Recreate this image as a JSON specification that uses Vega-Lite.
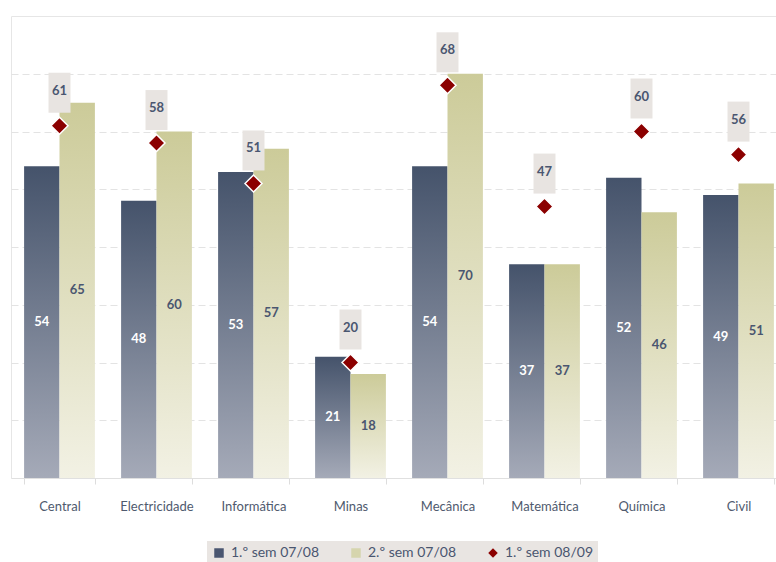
{
  "$schema": "https://vega.github.io/schema/vega-lite/v6.json",
  "width": 776,
  "height": 462,
  "autosize": {"type": "none"},
  "padding": {"left": 11, "top": 16, "right": -11, "bottom": 84},
  "config": {
    "view": {"stroke": "#e6e6e6"},
    "font": "Lato"
  },
  "data": {
    "values": [
      {"cat": "Central", "s": "1.º sem 07/08", "v": 54},
      {"cat": "Electricidade", "s": "1.º sem 07/08", "v": 48},
      {"cat": "Informática", "s": "1.º sem 07/08", "v": 53},
      {"cat": "Minas", "s": "1.º sem 07/08", "v": 21},
      {"cat": "Mecânica", "s": "1.º sem 07/08", "v": 54},
      {"cat": "Matemática", "s": "1.º sem 07/08", "v": 37},
      {"cat": "Química", "s": "1.º sem 07/08", "v": 52},
      {"cat": "Civil", "s": "1.º sem 07/08", "v": 49},
      {"cat": "Central", "s": "2.º sem 07/08", "v": 65},
      {"cat": "Electricidade", "s": "2.º sem 07/08", "v": 60},
      {"cat": "Informática", "s": "2.º sem 07/08", "v": 57},
      {"cat": "Minas", "s": "2.º sem 07/08", "v": 18},
      {"cat": "Mecânica", "s": "2.º sem 07/08", "v": 70},
      {"cat": "Matemática", "s": "2.º sem 07/08", "v": 37},
      {"cat": "Química", "s": "2.º sem 07/08", "v": 46},
      {"cat": "Civil", "s": "2.º sem 07/08", "v": 51},
      {"cat": "Central", "s": "1.º sem 08/09", "v": 61},
      {"cat": "Electricidade", "s": "1.º sem 08/09", "v": 58},
      {"cat": "Informática", "s": "1.º sem 08/09", "v": 51},
      {"cat": "Minas", "s": "1.º sem 08/09", "v": 20},
      {"cat": "Mecânica", "s": "1.º sem 08/09", "v": 68},
      {"cat": "Matemática", "s": "1.º sem 08/09", "v": 47},
      {"cat": "Química", "s": "1.º sem 08/09", "v": 60},
      {"cat": "Civil", "s": "1.º sem 08/09", "v": 56}
    ]
  },
  "encoding": {
    "x": {
      "field": "cat",
      "type": "nominal",
      "sort": null,
      "scale": {"paddingInner": 0.27, "paddingOuter": 0.135},
      "axis": {
        "title": null,
        "labelAngle": 0,
        "labelFont": "Lato",
        "labelFontSize": 13,
        "labelColor": "#4f5a6e",
        "labelPadding": 16,
        "tickColor": "#dddddd",
        "tickSize": 6,
        "tickBand": "extent",
        "domainColor": "#e0e0e0",
        "grid": false
      }
    }
  },
  "layer": [
    {
      "transform": [{"filter": "datum.s === '1.º sem 07/08'"}],
      "mark": {
        "type": "bar",
        "color": {"gradient": "linear", "x1": 0, "y1": 0, "x2": 0, "y2": 1,
          "stops": [{"offset": 0, "color": "#45536b"}, {"offset": 1, "color": "#a5aab8"}]}
      },
      "encoding": {
        "y": {
          "field": "v", "type": "quantitative",
          "scale": {"domain": [0, 80], "nice": false},
          "axis": {"title": null, "labels": false, "ticks": false, "domain": false,
            "values": [10, 20, 30, 40, 50, 60, 70], "gridDash": [7, 4], "gridColor": "#e3e3e3"}
        },
        "xOffset": {"field": "s", "scale": {"domain": ["1.º sem 07/08", "2.º sem 07/08"], "paddingInner": 0, "paddingOuter": 0}}
      }
    },
    {
      "transform": [{"filter": "datum.s === '2.º sem 07/08'"}],
      "mark": {
        "type": "bar",
        "color": {"gradient": "linear", "x1": 0, "y1": 0, "x2": 0, "y2": 1,
          "stops": [{"offset": 0, "color": "#cccb99"}, {"offset": 1, "color": "#f2f1e4"}]}
      },
      "encoding": {
        "y": {"field": "v", "type": "quantitative"},
        "xOffset": {"field": "s", "scale": {"domain": ["1.º sem 07/08", "2.º sem 07/08"], "paddingInner": 0, "paddingOuter": 0}}
      }
    },
    {
      "transform": [{"filter": "datum.s === '1.º sem 07/08'"}, {"calculate": "datum.v / 2", "as": "mid"}],
      "mark": {"type": "text", "color": "white", "fontWeight": "bold", "fontSize": 13, "font": "Lato", "baseline": "middle"},
      "encoding": {
        "y": {"field": "mid", "type": "quantitative"},
        "text": {"field": "v", "type": "quantitative"},
        "xOffset": {"field": "s", "scale": {"domain": ["1.º sem 07/08", "2.º sem 07/08"], "paddingInner": 0, "paddingOuter": 0}}
      }
    },
    {
      "transform": [{"filter": "datum.s === '2.º sem 07/08'"}, {"calculate": "datum.v / 2", "as": "mid"}],
      "mark": {"type": "text", "color": "#4a5670", "fontWeight": "bold", "fontSize": 13, "font": "Lato", "baseline": "middle"},
      "encoding": {
        "y": {"field": "mid", "type": "quantitative"},
        "text": {"field": "v", "type": "quantitative"},
        "xOffset": {"field": "s", "scale": {"domain": ["1.º sem 07/08", "2.º sem 07/08"], "paddingInner": 0, "paddingOuter": 0}}
      }
    },
    {
      "transform": [{"filter": "datum.s === '1.º sem 08/09'"}],
      "mark": {"type": "point", "filled": true, "fill": "#e8e4e1", "opacity": 1, "strokeWidth": 0, "size": 6400,
        "shape": "M-0.275,-1.325L0.275,-1.325L0.275,-0.325L-0.275,-0.325Z"},
      "encoding": {
        "y": {"field": "v", "type": "quantitative"}
      }
    },
    {
      "transform": [{"filter": "datum.s === '1.º sem 08/09'"}],
      "mark": {"type": "point", "filled": true, "opacity": 1, "size": 289, "stroke": "white", "strokeWidth": 1.5},
      "encoding": {
        "y": {"field": "v", "type": "quantitative"},
        "color": {
          "field": "s", "type": "nominal",
          "scale": {"domain": ["1.º sem 07/08", "2.º sem 07/08", "1.º sem 08/09"], "range": ["#4a5670", "#d6d5ad", "#8b0000"]},
          "legend": {
            "title": null,
            "orient": "none",
            "legendX": 196,
            "legendY": 525,
            "direction": "horizontal",
            "fillColor": "#e9e5e2",
            "padding": 5,
            "columnPadding": 30,
            "symbolSize": 90,
            "symbolStrokeWidth": 0,
            "labelFont": "Lato",
            "labelFontSize": 14,
            "labelColor": "#4a5670",
            "labelOffset": 5,
            "encode": {
              "symbols": {
                "update": {
                  "fill": [
                    {"test": "datum.label === '1.º sem 07/08'", "value": {"gradient": "linear", "x1": 0, "y1": 0, "x2": 0, "y2": 1, "stops": [{"offset": 0, "color": "#45536b"}, {"offset": 1, "color": "#a5aab8"}]}},
                    {"test": "datum.label === '2.º sem 07/08'", "value": {"gradient": "linear", "x1": 0, "y1": 0, "x2": 0, "y2": 1, "stops": [{"offset": 0, "color": "#cccb99"}, {"offset": 1, "color": "#f2f1e4"}]}},
                    {"value": "#8b0000"}
                  ],
                  "size": [
                    {"test": "datum.label === '1.º sem 08/09'", "value": 64},
                    {"value": 100}
                  ]
                }
              }
            }
          }
        },
        "shape": {
          "field": "s", "type": "nominal",
          "scale": {"domain": ["1.º sem 07/08", "2.º sem 07/08", "1.º sem 08/09"], "range": ["square", "square", "diamond"]}
        }
      }
    },
    {
      "transform": [{"filter": "datum.s === '1.º sem 08/09'"}],
      "mark": {"type": "text", "color": "#4a5670", "fontWeight": "bold", "fontSize": 13, "font": "Lato", "baseline": "middle", "dy": -35},
      "encoding": {
        "y": {"field": "v", "type": "quantitative"},
        "text": {"field": "v", "type": "quantitative"}
      }
    }
  ]
}
